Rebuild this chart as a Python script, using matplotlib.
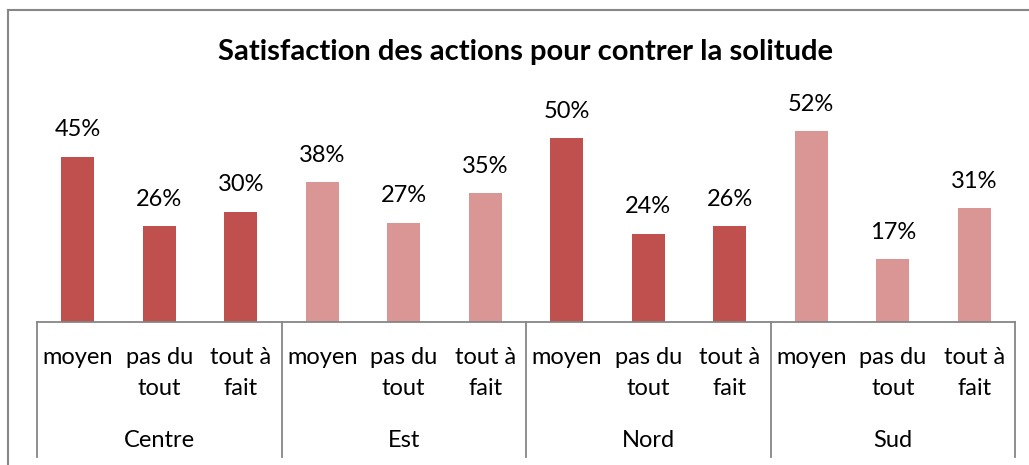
import matplotlib
matplotlib.use("Agg")
import matplotlib.pyplot as plt
from matplotlib.lines import Line2D

regions = ["Centre", "Est", "Nord", "Sud"]
levels = ["moyen", "pas du\ntout", "tout à\nfait"]
values = [
    [45, 26, 30],   # Centre
    [38, 27, 35],   # Est
    [50, 24, 26],   # Nord
    [52, 17, 31],   # Sud
]
colors_by_region = ["#C0504D", "#D99694", "#C0504D", "#D99694"]
title = "Satisfaction des actions pour contrer la solitude"

FONT = "Lato"
FS = 17
W, H = 1029, 465
fig = plt.figure(figsize=(W / 100, H / 100), dpi=100)
fig.patch.set_facecolor("white")

base_px = 321.7
px_per_pct = 3.667
ymax = 70
top_px = base_px - px_per_pct * ymax
left_px, right_px = 37, 1015
ax = fig.add_axes([left_px / W, (H - base_px) / H,
                   (right_px - left_px) / W, (base_px - top_px) / H])
ax.set_xlim(-0.5, 11.5)
ax.set_ylim(0, ymax)
ax.axis("off")

def ay(px):
    return (base_px - px) / (base_px - top_px)

xt = ax.get_xaxis_transform()
x = 0
for gi, (reg, vals) in enumerate(zip(regions, values)):
    for li, (lev, v) in enumerate(zip(levels, vals)):
        ax.bar(x, v, width=0.405, color=colors_by_region[gi], zorder=2)
        ax.text(x, v + 27 / px_per_pct, f"{v}%", ha="center", va="center",
                fontsize=FS, family=FONT, color="black")
        for k, line in enumerate(lev.split("\n")):
            ax.text(x, ay(358 + 30 * k), line, ha="center", va="center",
                    fontsize=FS, family=FONT, color="black", transform=xt)
        x += 1
    ax.text(gi * 3 + 1, ay(440), reg, ha="center", va="center",
            fontsize=FS, family=FONT, color="black", transform=xt)

grey = "#868686"
ax.plot([-0.5, 11.5], [0, 0], color=grey, lw=1.3, clip_on=False, zorder=3)
for b in [-0.5, 2.5, 5.5, 8.5, 11.5]:
    ax.plot([b, b], [0, ay(457)], color=grey, lw=1.3, clip_on=False,
            transform=xt)

fig.text(525 / W, 1 - 52 / H, title, ha="center", va="center",
         fontsize=21, fontweight="bold", family=FONT, color="black")

# chart border (partial)
fig.add_artist(Line2D([8 / W, 8 / W], [0, 1 - 10 / H], color="#878787", lw=1.5))
fig.add_artist(Line2D([8 / W, 1], [1 - 10 / H, 1 - 10 / H], color="#878787", lw=1.5))

fig.savefig("out.png", dpi=100, facecolor="white")
